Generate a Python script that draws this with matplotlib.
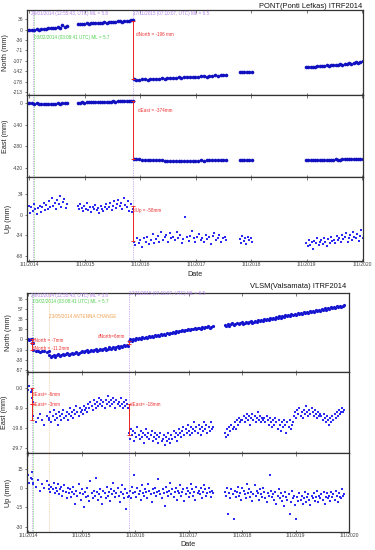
import numpy as np
import pandas as pd
import matplotlib
matplotlib.use("Agg")
import matplotlib.pyplot as plt

plt.rcParams['font.family'] = ['Liberation Sans', 'DejaVu Sans']

# ---------------- common ----------------
YEAR_TICKS = ["2014-01-01", "2015-01-01", "2016-01-01", "2017-01-01",
              "2018-01-01", "2019-01-01", "2020-01-01"]
YEAR_LABELS = ["1/1/2014", "1/1/2015", "1/1/2016", "1/1/2017",
               "1/1/2018", "1/1/2019", "1/1/2020"]

# ---------------- PONT ----------------
PONT_TITLE = "PONT(Ponti Lefkas) ITRF2014"
PONT_SEGMENTS = [("2013-12-17", "2014-09-05"), ("2014-11-14", "2015-11-16"),
                 ("2015-11-18", "2017-07-20"), ("2017-10-15", "2018-01-05"),
                 ("2018-12-28", "2020-01-04")]
PONT_NORTH = [
    [-1, -2, 0, -1, 1, 0, 2, 3, 2, 4, 5, 4, 6, 8, 7, 15, 9, 11],
    [18, 19, 18, 20, 21, 20, 22, 21, 23, 22, 24, 23, 25, 24, 26, 25, 27, 26,
     28, 29, 27, 30, 31, 29, 32, 33],
    [-168, -172, -171, -170, -169, -171, -168, -169, -167, -168, -166, -167,
     -165, -166, -164, -165, -163, -164, -162, -163, -161, -162, -160, -161,
     -159, -158, -160, -157, -158, -156, -157, -155, -154, -156],
    [-146, -145, -144, -146, -143, -145],
    [-128, -127, -128, -126, -127, -125, -124, -125, -123, -122, -123, -121,
     -120, -121, -119, -118, -119, -117, -116, -115, -116, -113, -112, -113,
     -110, -108],
]
PONT_EAST = [
    [0, -1, -2, -3, -2, -4, -3, -5, -4, -3, -5, -4, -3, -2, -3, -1, -2, 0],
    [3, 2, 4, 3, 5, 4, 5, 6, 5, 7, 6, 8, 7, 8, 9, 8, 10, 9, 11, 10, 12, 11,
     13, 12, 14, 15],
    [-360, -362, -364, -365, -366, -368, -367, -369, -370, -371, -370, -372,
     -373, -372, -374, -373, -375, -374, -374, -375, -373, -374, -372, -373,
     -371, -372, -370, -371, -369, -370, -368, -369, -370, -368],
    [-368, -369, -367, -368, -366, -367],
    [-370, -369, -370, -368, -369, -367, -368, -366, -367, -368, -366, -365,
     -366, -364, -365, -366, -364, -363, -364, -362, -363, -361, -362, -360,
     -361, -359],
]
PONT_UP = [
    [8, 14, 3, 12, 6, 17, 9, 1, 11, 15, 5, 13, 20, 7, 16, 10, 22, 12, 28, 14,
     19, 9, 24, 17, 30, 13, 21, 26, 11, 18],
    [14, 9, 18, 11, 6, 15, 10, 20, 8, 13, 4, 12, 9, 16, 7, 11, 3, 14, 10, 6,
     13, 17, 9, 12, 19, 8, 15, 22, 11, 17, 25, 14, 20, 9, 28, 16, 12, 23, 6,
     18, 4, 10],
    [-44, -50, -38, -47, -41, -53, -39, -45, -36, -48, -42, -31, -46, -40,
     -35, -44, -28, -41, -37, -33, -45, -30, -39, -36, -42, -29, -38, -34,
     -47, -40, -3, -37, -43, -35, -26, -39, -44, -36, -31, -41, -38, -45,
     -33, -40, -37, -48, -35, -30, -42, -38, -34, -44, -39, -36, -41],
    [-40, -46, -35, -43, -38, -48, -36, -42, -39, -44],
    [-46, -52, -41, -49, -44, -56, -43, -47, -39, -50, -45, -42, -48, -38,
     -44, -51, -40, -46, -36, -43, -41, -47, -35, -42, -39, -45, -33, -40,
     -37, -30, -44, -38, -34, -41, -29, -36, -39, -32, -43, -35, -25, -38],
]
PONT_EVENTS = ["2014-01-26", "2014-02-03", "2015-11-17"]
PONT_EVENT_COLORS = ["#a070e0", "#40c040", "#a070e0"]
# offsets: (component, date, value before, value after, label)
PONT_OFFSETS = [("N", "2015-11-17", 31, -168, "dNorth = -196 mm"),
                ("E", "2015-11-17", 14, -360, "dEast = -374mm"),
                ("U", "2015-11-17", 15, -43, "dUp = -58mm")]
PONT_N_TICKS = [36, 0, -36, -71, -107, -142, -178, -213]
PONT_E_TICKS = [0, -140, -280, -420]
PONT_U_TICKS = [34, 0, -34, -68]

# ---------------- VLSM ----------------
VLSM_TITLE = "VLSM(Valsamata) ITRF2014"
VLSM_SEGMENTS = [("2013-12-23", "2014-01-25"), ("2014-01-27", "2014-02-02"),
                 ("2014-02-04", "2014-05-22"), ("2014-05-24", "2015-11-16"),
                 ("2015-11-18", "2017-06-15"), ("2017-09-05", "2019-12-01")]
VLSM_NORTH = [
    [1, 0, -1, 0, 1],
    [-6, -7],
    [-20, -22, -21, -23, -22, -21, -23, -22],
    [-30, -33, -31, -29, -32, -30, -28, -31, -29, -27, -30, -28, -26, -29,
     -27, -25, -28, -26, -24, -27, -25, -23, -21, -24, -22, -20, -23, -21,
     -19, -22, -20, -18, -21, -19, -17, -20, -18, -16, -19, -17, -15, -18,
     -16, -14, -17, -15, -13, -16, -12, -14, -11, -13, -10, -12],
    [-2, 0, -3, 1, -1, 2, 0, 3, 1, 4, 2, 5, 3, 6, 4, 7, 5, 8, 6, 9, 7, 10, 8,
     11, 9, 12, 10, 13, 12, 14, 13, 15, 14, 16, 15, 17, 16, 18, 17, 19, 18,
     20, 19, 21, 20, 22, 21, 20, 23, 22, 24, 23, 25, 22, 24, 26],
    [27, 25, 29, 26, 28, 30, 27, 29, 31, 28, 30, 32, 29, 31, 33, 30, 32, 34,
     31, 33, 35, 33, 36, 34, 37, 35, 38, 36, 39, 37, 40, 38, 41, 39, 42, 40,
     43, 41, 44, 42, 45, 43, 46, 44, 47, 45, 48, 46, 49, 47, 50, 48, 51, 49,
     52, 50, 53, 51, 54, 52, 55, 53, 56, 54, 57, 55, 58, 56, 59, 57, 60, 58,
     61, 59, 62, 60, 63, 61, 62, 64],
]
VLSM_EAST = [
    [0, -1, 1, -2, -1],
    [-5, -7],
    [-14, -17, -15, -13, -16, -18, -14, -16],
    [-15, -12, -17, -14, -11, -16, -13, -15, -18, -12, -14, -16, -13, -11,
     -15, -14, -12, -16, -13, -10, -14, -12, -15, -11, -13, -9, -12, -14,
     -10, -12, -11, -13, -9, -11, -10, -12, -8, -10, -7, -9, -11, -6, -8,
     -10, -7, -9, -5, -8, -6, -9, -7, -10, -6, -8, -4, -7, -9, -6, -8, -5,
     -7, -10, -6, -8, -7, -9, -5, -8, -10, -7, -9, -6, -8, -10],
    [-22, -25, -20, -23, -21, -26, -22, -24, -19, -23, -25, -21, -24, -22,
     -27, -23, -20, -24, -22, -25, -23, -21, -26, -24, -22, -25, -23, -27,
     -24, -22, -26, -25, -23, -28, -24, -26, -22, -25, -27, -23, -25, -21,
     -24, -22, -26, -23, -20, -22, -24, -21, -19, -23, -20, -22, -18, -21,
     -23, -19, -22, -20, -17, -21, -19, -22, -18, -20, -23, -19, -21, -17,
     -20, -18, -22, -19, -21, -17, -20, -19],
    [-22, -24, -20, -23, -19, -21, -18, -20,
     -19, -17, -20, -16, -18, -15, -17, -16,
     -16, -14, -17, -15, -13, -16, -14, -18, -15, -13, -16, -14, -17, -15,
     -12, -16, -14, -17, -15, -16,
     -15, -17, -14, -16, -18, -15, -17, -19, -16, -18, -15, -17, -20, -16,
     -18, -21, -17, -19, -16, -18, -22, -17, -19, -16, -20, -18, -17,
     -14, -12, -15, -11, -13, -10, -14, -12, -15, -11, -13, -9, -12, -14,
     -11, -13, -10, -12, -14, -11, -13, -15, -12, -14, -13,
     -14, -16, -13, -15, -17, -14, -16, -18, -15, -17, -14, -16, -13, -15,
     -12, -14, -11, -13, -12, -10, -12, -11],
]
VLSM_UP = [
    [6, 10, 4, 8, 12],
    [7, 3],
    [4, 1, 6, -2, 3, 0, 5, -1],
    [2, -3, 1, -1, 4, -4, 0, -2, 3, -5, -1, 1, -6, -2, 2, -3, -8, 0, -4, -1,
     -7, -3, 1, -5, -12, -2, -6, 3, -4, -9, -1, -5, -15, -3, -7, 0, -6, -10,
     5, -4, -8, -2, -6, 8, -3, -9, -5, -1, -7, -12, -2, -4, -8, 1, -6, -3,
     -10, -1, -5, 4, -2, -7, -4, 0, -6, -11, -3, 2, -5, -8, -1, -16, -4, -7],
    [-6, -2, -8, 1, -4, 10, -3, -7, 0, -5, -2, -9, 2, -4, -6, -1, -3, -8, 3,
     -2, -5, -11, -1, -4, 0, -6, -3, 7, -2, -5, -8, -1, -4, -14, 1, -3, -6,
     -2, 4, -5, -1, -7, -3, 0, -9, -2, -4, 2, -6, -3, -1, -10, -5, 0, -2,
     -7, -4, 3, -1, -6, -3, -9, 1, -4, -2, -5, 0, -8, -3, 2, -1, -6, -4, 0,
     -3, -7, -2, -4],
    [-3, -6, 0, -20, -4, -8, -1, -5, -24, -2, -7, -3, 1, -6, -4, -9, 0, -2,
     -5, -8, 3, -4, -1, -7, -3, -10, -5, 2, -6, -2, -4, -9, -1, -5, -7, 0,
     -3, -8, -11, -4, -6, 10, -2, -7, -5, -9, -3, -12, -6, -1, -8, -4, -10,
     -6, -14, -3, -7, -9, -5, -20, -11, -2, -8, -6, -13, -24, -7, -10, -4,
     -9, -6, -12, -8, -3, -11, -7, -5, -9, -13, -6, -8, -4, -10, -7, -2,
     -11, -6, -8, -5, -9, -3, -12, -7, -4, -8, -6, -10, -3, -7, -5, -9, -2,
     -6, -11, -4, -7, -8, -1, -6, -5],
]
VLSM_EVENTS = ["2014-01-26", "2014-02-03", "2014-05-23", "2015-11-17"]
VLSM_EVENT_COLORS = ["#a070e0", "#40c040", "#f0b070", "#a070e0"]
VLSM_OFFSETS = [("N", "2014-01-28", 0, -7, None),
                ("N", "2014-01-28", -7, -20, None),
                ("N", "2015-11-17", -9, -2, None),
                ("E", "2014-01-28", 0, -8, None),
                ("E", "2014-01-28", -8, -16, None),
                ("E", "2015-11-17", -8, -23, None)]
VLSM_N_TICKS = [76, 57, 38, 19, 0, -19, -38, -57]
VLSM_E_TICKS = [0.0, -9.9, -19.8, -29.7]
VLSM_E_LABELS = ["0.0", "-9.9", "-19.8", "-29.7"]
VLSM_U_TICKS = [15, 0, -15, -30]

W, H = 375, 550
fig = plt.figure(figsize=(W / 100, H / 100), dpi=100)


def fbox(x0, y0, x1, y1):
    return [x0 / W, 1 - y1 / H, (x1 - x0) / W, (y1 - y0) / H]


def seg_dates(segments, values):
    xs, ys = [], []
    for (a, b), v in zip(segments, values):
        t0, t1 = pd.Timestamp(a).value, pd.Timestamp(b).value
        d = pd.to_datetime(np.linspace(t0, t1, len(v)))
        xs.append(d)
        ys.append(np.asarray(v, float))
    return np.concatenate([x.values for x in xs]), np.concatenate(ys)


def style_axes(ax, xlim, ylim, yticks, ylabels, ylabel, show_x):
    ax.set_xlim(pd.Timestamp(xlim[0]), pd.Timestamp(xlim[1]))
    ax.set_ylim(*ylim)
    ax.set_yticks(yticks)
    ax.set_yticklabels(ylabels if ylabels else [str(t) for t in yticks])
    ax.set_xticks(pd.to_datetime(YEAR_TICKS))
    if show_x:
        ax.set_xticklabels(YEAR_LABELS)
    else:
        ax.set_xticklabels([])
    ax.tick_params(axis='both', labelsize=3.6, length=1.8, width=0.5,
                   pad=1, direction='out', colors='#444444')
    ax.tick_params(axis='x', top=True, direction='in')
    ax.set_ylabel(ylabel, fontsize=5.2, labelpad=3, color='#222222')
    for s in ax.spines.values():
        s.set_linewidth(0.9)
        s.set_color('#333333')


def draw_station(box_px, title, title_xy, xlim, segments, north, east, up,
                 events, ecolors, offsets, ticks, styles, date_y):
    x0, x1, ys = box_px
    axes = {}
    names = ["N", "E", "U"]
    labels = ["North (mm)", "East (mm)", "Up (mm)"]
    datas = [north, east, up]
    for i, k in enumerate(names):
        ax = fig.add_axes(fbox(x0, ys[i], x1, ys[i + 1]))
        axes[k] = ax
        xd, yd = seg_dates(segments, datas[i])
        mk, ms, col = styles[k]
        ax.plot(xd, yd, linestyle='none', marker=mk, ms=ms, mew=0,
                color=col)
        for ev, c in zip(events, ecolors):
            ax.axvline(pd.Timestamp(ev), color=c, lw=0.5, ls=(0, (1, 1.5)),
                       zorder=0)
        t = ticks[k]
        style_axes(ax, xlim, t[0], t[1], t[2], labels[i], i == 2)
    for comp, d, va, vb, lab in offsets:
        axes[comp].plot([pd.Timestamp(d)] * 2, [va, vb], color='#ee2020',
                        lw=0.7, marker='_', ms=2.5, mew=0.6)
    fig.text(title_xy[0] / W, 1 - title_xy[1] / H, title, ha='right',
             va='center', fontsize=5.4, color='#111111')
    fig.text((x0 + x1) / 2 / W, 1 - date_y / H, "Date", ha='center',
             va='center', fontsize=5.2, color='#222222')
    return axes


def ptext(x, y, s, color, ha='left', size=3.3):
    fig.text(x / W, 1 - y / H, s, color=color, fontsize=size, ha=ha,
             va='center')


# PONT
pont_ticks = {
    "N": ((-223, 67), PONT_N_TICKS, None),
    "E": ((-478, 52), PONT_E_TICKS, None),
    "U": ((-76, 62), PONT_U_TICKS, None),
}
pont_styles = {"N": ('o', 2.6, '#1010c0'), "E": ('o', 2.6, '#1010c0'),
               "U": ('s', 1.5, '#2a2af0')}
draw_station((27, 363, [10, 95, 177, 261]), PONT_TITLE, (362, 6),
             ("2013-12-16", "2020-01-06"), PONT_SEGMENTS, PONT_NORTH,
             PONT_EAST, PONT_UP, PONT_EVENTS, PONT_EVENT_COLORS,
             PONT_OFFSETS, pont_ticks, pont_styles, 274)
ptext(31, 14, "26/01/2014 (12:55:43, UTC) ML = 5.8", "#b080e8")
ptext(34, 37, "03/02/2014 (03:08:41 UTC) ML = 5.7", "#50d050")
ptext(133, 13, "17/11/2015 (07:10:07, UTC) ML = 6.5", "#b080e8")
ptext(136, 34, PONT_OFFSETS[0][4], "#ee3030")
ptext(138, 111, PONT_OFFSETS[1][4], "#ee3030")
ptext(133, 211, PONT_OFFSETS[2][4], "#ee3030")

# VLSM
vlsm_ticks = {
    "N": ((-61, 87), VLSM_N_TICKS, None),
    "E": ((-32, 7.8), VLSM_E_TICKS, VLSM_E_LABELS),
    "U": ((-34, 27), VLSM_U_TICKS, None),
}
vlsm_styles = {"N": ('o', 2.3, '#1515d0'), "E": ('s', 1.5, '#2a2af0'),
               "U": ('s', 1.5, '#2a2af0')}
draw_station((27, 349, [293, 372, 453, 532]), VLSM_TITLE, (346, 286),
             ("2013-12-23", "2020-01-01"), VLSM_SEGMENTS, VLSM_NORTH,
             VLSM_EAST, VLSM_UP, VLSM_EVENTS, VLSM_EVENT_COLORS,
             VLSM_OFFSETS, vlsm_ticks, vlsm_styles, 545)
ptext(31, 295, "26/01/2014 (12:55:43, UTC) ML = 5.8", "#b080e8")
ptext(33, 302, "03/02/2014 (03:08:41 UTC) ML = 5.7", "#50d050")
ptext(49, 316, "23/05/2014 ANTENNA CHANGE", "#f0a050")
ptext(129, 294, "17/11/2015 (07:10:07, UTC) ML = 6.5", "#b080e8")
ptext(32, 340, "dNorth = -7mm", "#ee3030")
ptext(32, 349, "dNorth = -11.2mm", "#ee3030")
ptext(125, 336, "dNorth=6mm", "#ee3030", ha='right')
ptext(32, 395, "dEast= -6mm", "#ee3030")
ptext(32, 404, "dEast= -3mm", "#ee3030")
ptext(130, 404, "dEast= -18mm", "#ee3030")

fig.savefig("out.png", dpi=100)
